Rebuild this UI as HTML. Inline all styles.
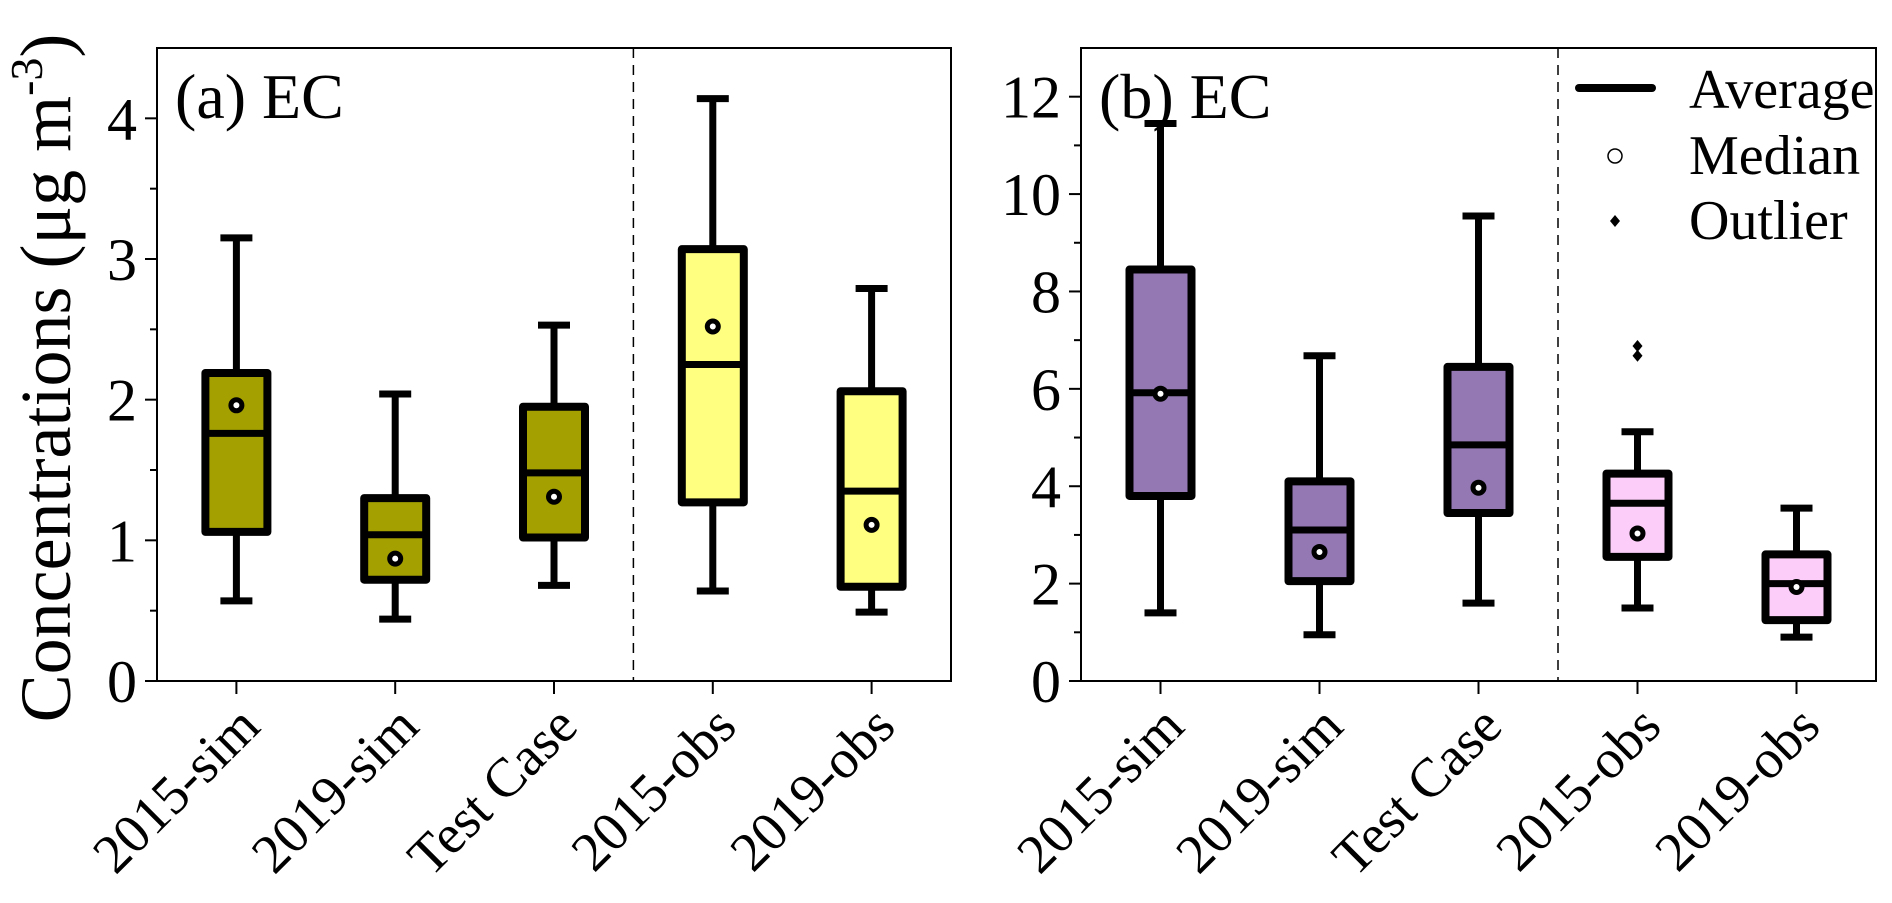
<!DOCTYPE html>
<html><head><meta charset="utf-8"><style>
html,body{margin:0;padding:0;background:#fff;}
svg, svg text{font-family:"Liberation Serif","Times New Roman","DejaVu Serif",serif;}
svg{display:block;}
</style></head><body>
<svg id="chart" width="1892" height="903" viewBox="0 0 1892 903" xmlns="http://www.w3.org/2000/svg" font-family="Liberation Serif, Times New Roman, serif"></svg>
<script>
const categories = ["2015-sim","2019-sim","Test Case","2015-obs","2019-obs"];
// panel a: [whiskerLow, q1, average line, q3, whiskerHigh], median circle
const aLow = [0.57,0.44,0.68,0.64,0.49];
const aQ1 = [1.06,0.72,1.02,1.27,0.67];
const aMid = [1.76,1.04,1.48,2.25,1.35];
const aQ3 = [2.19,1.30,1.95,3.07,2.06];
const aHigh = [3.15,2.04,2.53,4.14,2.79];
const aMedian = [1.96,0.87,1.31,2.52,1.11];
// panel b
const bLow = [1.4,0.95,1.6,1.5,0.9];
const bQ1 = [3.8,2.05,3.45,2.55,1.25];
const bMid = [5.92,3.1,4.85,3.65,2.0];
const bQ3 = [8.45,4.1,6.45,4.26,2.6];
const bHigh = [11.45,6.68,9.55,5.12,3.55];
const bMedian = [5.9,2.65,3.97,3.03,1.93];
const bOutliers = [[],[],[],[6.68,6.88],[]];
const aTicks = [0,1,2,3,4];
const bTicks = [0,2,4,6,8,10,12];

const NS="http://www.w3.org/2000/svg";
const svg=document.getElementById('chart');
const FONT="Liberation Serif, Times New Roman, serif";
function mk(tag,attrs,parent){const e=document.createElementNS(NS,tag);for(const k in attrs)e.setAttribute(k,attrs[k]);if(tag==='text')e.setAttribute('font-family',FONT);(parent||svg).appendChild(e);return e;}

function panel(cfg){
  const g=mk('g',{});
  
  
  const y=v=>cfg.y0-(v-0)*(cfg.y0-cfg.top)/cfg.ymax;
  const step=(cfg.right-cfg.left)/5;
  const x=i=>cfg.left+step*(i+0.5);
  const fr=mk('rect',{x:cfg.left,y:cfg.top,width:cfg.right-cfg.left,height:cfg.y0-cfg.top,fill:'none',stroke:'#000','stroke-width':2},g);
  
  
  const dv=mk('line',{x1:cfg.left+step*3,x2:cfg.left+step*3,y1:cfg.top,y2:cfg.y0,stroke:'#000','stroke-width':1.5,'stroke-dasharray':'10,7'},g);
  
  
  cfg.ticks.forEach((t,k)=>{
    const yy=y(t);
    mk('line',{x1:cfg.left-12,x2:cfg.left,y1:yy,y2:yy,stroke:'#000','stroke-width':2},g);
    const tx=mk('text',{x:cfg.left-20,y:yy+21,'text-anchor':'end','font-size':60},g);
    tx.textContent=t;
    
    
    if(k<cfg.ticks.length-1){const ym=y((t+cfg.ticks[k+1])/2);mk('line',{x1:cfg.left-7,x2:cfg.left,y1:ym,y2:ym,stroke:'#000','stroke-width':2},g);}
  });
  categories.forEach((c,i)=>{
    const xx=x(i);
    mk('line',{x1:xx,x2:xx,y1:cfg.y0,y2:cfg.y0+13,stroke:'#000','stroke-width':2},g);
    const tx=mk('text',{x:0,y:0,'text-anchor':'end','font-size':55,transform:`translate(${xx+26},${cfg.y0+48}) rotate(-45)`},g);
    tx.textContent=c;
    
    
  });
  const bw=70,cw=32;
  categories.forEach((c,i)=>{
    const xx=x(i);
    const bg=mk('g',{},g);
    
    
    const col=i<3?cfg.simColor:cfg.obsColor;
    mk('line',{x1:xx,x2:xx,y1:y(cfg.low[i]),y2:y(cfg.q1[i]),stroke:'#000','stroke-width':7},bg);
    mk('line',{x1:xx,x2:xx,y1:y(cfg.q3[i]),y2:y(cfg.high[i]),stroke:'#000','stroke-width':7},bg);
    mk('line',{x1:xx-cw/2,x2:xx+cw/2,y1:y(cfg.low[i]),y2:y(cfg.low[i]),stroke:'#000','stroke-width':7},bg);
    mk('line',{x1:xx-cw/2,x2:xx+cw/2,y1:y(cfg.high[i]),y2:y(cfg.high[i]),stroke:'#000','stroke-width':7},bg);
    mk('rect',{x:xx-bw/2+4,y:y(cfg.q3[i]),width:bw-8,height:y(cfg.q1[i])-y(cfg.q3[i]),fill:col,stroke:'#000','stroke-width':8,'stroke-linejoin':'round'},bg);
    mk('line',{x1:xx-bw/2+4,x2:xx+bw/2-4,y1:y(cfg.mid[i]),y2:y(cfg.mid[i]),stroke:'#000','stroke-width':7},bg);
    mk('circle',{cx:xx,cy:y(cfg.med[i]),r:5.5,fill:'#fff',stroke:'#000','stroke-width':5},bg);
    (cfg.outl[i]||[]).forEach(o=>{
      const yy=y(o);
      const d=mk('polygon',{points:`${xx},${yy-6} ${xx+5},${yy} ${xx},${yy+6} ${xx-5},${yy}`,fill:'#000'},bg);
      
      
    });
  });
  const t=mk('text',{x:cfg.left+18,y:cfg.top+70,'font-size':64},g);
  t.textContent=cfg.title;
  
  
}
panel({name:'panel-a',left:157,right:951,top:48,y0:681,ymax:4.5,ticks:aTicks,low:aLow,q1:aQ1,mid:aMid,q3:aQ3,high:aHigh,med:aMedian,outl:[],simColor:'#a3a000',obsColor:'#ffff80',title:'(a) EC'});
panel({name:'panel-b',left:1081,right:1876,top:48,y0:681,ymax:13,ticks:bTicks,low:bLow,q1:bQ1,mid:bMid,q3:bQ3,high:bHigh,med:bMedian,outl:bOutliers,simColor:'#9478b3',obsColor:'#fccdf8',title:'(b) EC'});

const yt=mk('text',{x:0,y:0,'text-anchor':'middle','font-size':72,transform:'translate(70,378) rotate(-90)'});


yt.innerHTML='Concentrations (μg m<tspan dy="-28" font-size="46">-3</tspan><tspan dy="28">)</tspan>';

const lg=mk('g',{});


mk('line',{x1:1579,x2:1652,y1:88,y2:88,stroke:'#000','stroke-width':8,'stroke-linecap':'round'},lg);
mk('circle',{cx:1615,cy:156,r:7,fill:'#fff',stroke:'#000','stroke-width':1.5},lg);
mk('polygon',{points:'1615,215 1620,221 1615,227 1610,221',fill:'#000'},lg);
[['Average',108],['Median',174],['Outlier',239]].forEach(([s,yy])=>{
  const t=mk('text',{x:1689,y:yy,'font-size':56},lg);
  t.textContent=s;
  
  
});
</script>
</body></html>
